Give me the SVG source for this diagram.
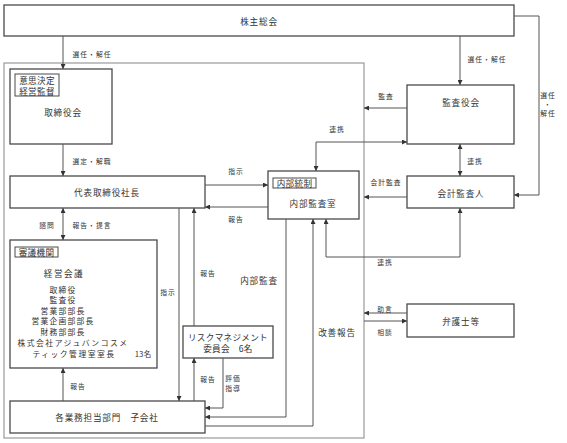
<svg xmlns="http://www.w3.org/2000/svg" width="567" height="443" viewBox="0 0 567 443">
<style>
.bx{fill:#fff;stroke:#4a4a4a;stroke-width:1.3}
.tag{fill:#fff;stroke:#4a4a4a;stroke-width:1}
.fr{fill:none;stroke:#999;stroke-width:1.2}
.ln{fill:none;stroke:#555;stroke-width:1}
text{font-family:"Noto Sans CJK JP","Noto Sans",sans-serif;fill:#333;text-anchor:middle;dominant-baseline:central}
.t{font-size:8.6px;letter-spacing:0.8px}
.s{font-size:6.8px;letter-spacing:1px}
.m{font-size:8.6px;letter-spacing:0.3px}
.l{font-size:7.8px;letter-spacing:1.2px}
</style>
<defs>
<marker id="a" markerWidth="5" markerHeight="5" refX="5" refY="2.5" orient="auto-start-reverse" markerUnits="userSpaceOnUse">
<path d="M0,0 L5,2.5 L0,5 z" fill="#333"/>
</marker>
</defs>
<rect class="fr" x="4" y="63" width="360" height="375"/>
<g id="kabunushi"><rect class="bx" x="4" y="5" width="510" height="31"/><text class="t" x="259" y="20.5">株主総会</text></g>
<g id="torishimariyakukai"><rect class="bx" x="10" y="69" width="102" height="75"/><rect class="tag" x="15" y="74" width="44" height="22"/><text class="m" x="37" y="80">意思決定</text><text class="m" x="37" y="90.5">経営監督</text><text class="t" x="63" y="112">取締役会</text></g>
<g id="kansayakukai"><rect class="bx" x="407" y="85" width="107" height="59"/><text class="t" x="461" y="102">監査役会</text></g>
<g id="daihyo"><rect class="bx" x="10" y="176" width="195" height="32"/><text class="t" x="107" y="192">代表取締役社長</text></g>
<g id="naibukansa"><rect class="bx" x="268" y="171" width="91" height="48"/><rect class="tag" x="273" y="178" width="43" height="10"/><text class="m" x="294.5" y="183">内部統制</text><text class="t" x="313" y="203">内部監査室</text></g>
<g id="kaikeikansanin"><rect class="bx" x="407" y="176" width="107" height="32"/><text class="t" x="461" y="193">会計監査人</text></g>
<g id="shingi"><rect class="bx" x="10" y="240" width="147" height="128"/><rect class="tag" x="15" y="247" width="43" height="10"/><text class="m" x="36.5" y="252">審議機関</text>
<text class="m" x="64" y="273" style="letter-spacing:1.5px">経営会議</text>
<text class="l" x="63" y="289">取締役</text>
<text class="l" x="63" y="299.5">監査役</text>
<text class="l" x="63" y="310">営業部部長</text>
<text class="l" x="63" y="320.5">営業企画部部長</text>
<text class="l" x="63" y="331">財務部部長</text>
<text class="l" x="73" y="342" style="letter-spacing:1.5px">株式会社アジュバンコスメ</text>
<text class="l" x="74" y="353" style="letter-spacing:1.5px">ティック管理室室長</text>
<text class="l" x="143" y="353" style="letter-spacing:0">13名</text></g>
<g id="risk"><rect class="bx" x="183" y="326" width="90" height="32"/><text class="m" x="228" y="337">リスクマネジメント</text><text class="m" x="228" y="348">委員会　6名</text></g>
<g id="bengoshi"><rect class="bx" x="407" y="304" width="107" height="33"/><text class="t" x="461" y="321">弁護士等</text></g>
<g id="kakugyomu"><rect class="bx" x="10" y="401" width="195" height="32"/><text class="t" x="107" y="417">各業務担当部門　子会社</text></g>
<g id="connectors">
<path class="ln" d="M63,36 V69" marker-end="url(#a)"/>
<path class="ln" d="M460,36 V85" marker-end="url(#a)"/>
<path class="ln" d="M514,16 H539 V195 H514" marker-end="url(#a)"/>
<path class="ln" d="M407,108 H364" marker-end="url(#a)"/>
<path class="ln" d="M63,144 V176" marker-end="url(#a)"/>
<path class="ln" d="M205,185 H268" marker-end="url(#a)"/>
<path class="ln" d="M268,207 H205" marker-end="url(#a)"/>
<path class="ln" d="M316,171 V142 H407" marker-start="url(#a)" marker-end="url(#a)"/>
<path class="ln" d="M460,144 V176" marker-start="url(#a)" marker-end="url(#a)"/>
<path class="ln" d="M407,197 H364" marker-end="url(#a)"/>
<path class="ln" d="M460,208 V257 H326 V219" marker-start="url(#a)" marker-end="url(#a)"/>
<path class="ln" d="M63,208 V240" marker-start="url(#a)" marker-end="url(#a)"/>
<path class="ln" d="M63,401 V368" marker-end="url(#a)"/>
<path class="ln" d="M179,208 V401" marker-end="url(#a)"/>
<path class="ln" d="M194,326 V208" marker-end="url(#a)"/>
<path class="ln" d="M194,401 V358" marker-end="url(#a)"/>
<path class="ln" d="M223,358 V408 H205" marker-end="url(#a)"/>
<path class="ln" d="M286,219 V417 H205" marker-end="url(#a)"/>
<path class="ln" d="M205,426 H313 V219" marker-end="url(#a)"/>
<path class="ln" d="M407,313 H364" marker-end="url(#a)"/>
<path class="ln" d="M364,321 H407" marker-end="url(#a)"/>
</g>
<g id="labels">
<text class="s" x="92" y="54">選任・解任</text>
<text class="s" x="487" y="59">選任・解任</text>
<text class="s" x="548" y="95">選任</text>
<text class="s" x="548" y="104">・</text>
<text class="s" x="548" y="113">解任</text>
<text class="s" x="386" y="96">監査</text>
<text class="s" x="92" y="161">選定・解職</text>
<text class="s" x="236" y="171">指示</text>
<text class="s" x="236" y="219">報告</text>
<text class="s" x="337" y="129">連携</text>
<text class="s" x="475" y="161">連携</text>
<text class="s" x="386" y="182">会計監査</text>
<text class="s" x="385" y="262">連携</text>
<text class="s" x="47" y="225">諮問</text>
<text class="s" x="92" y="225">報告・提言</text>
<text class="s" x="168" y="292">指示</text>
<text class="s" x="208" y="273">報告</text>
<text class="t" x="259" y="280">内部監査</text>
<text class="t" x="337" y="332">改善報告</text>
<text class="s" x="208" y="379">報告</text>
<text class="s" x="233" y="378">評価</text>
<text class="s" x="233" y="388">指導</text>
<text class="s" x="78" y="386">報告</text>
<text class="s" x="385" y="309">助言</text>
<text class="s" x="385" y="332">相談</text>
</g>
</svg>
